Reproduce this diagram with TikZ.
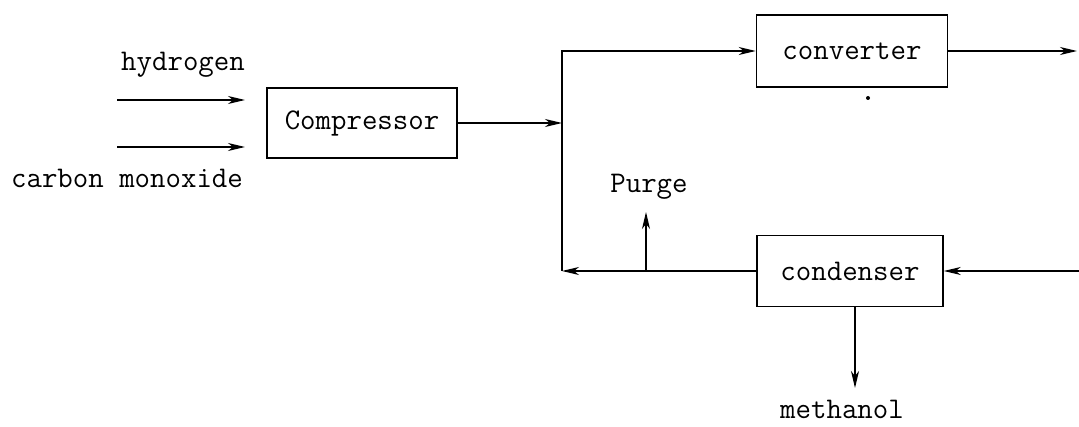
\documentclass[tikz,border=0pt]{standalone}
\usepackage{fontspec}
\usetikzlibrary{arrows.meta}
\begin{document}
\begin{tikzpicture}[x=1pt,y=-1pt,
  txt/.style={font=\fontsize{30}{33}\selectfont\ttfamily},
  box/.style={draw,line width=1.5pt,inner sep=0pt,txt},
  lbl/.style={inner sep=0pt,txt},
  flow/.style={line width=1.5pt,-{Stealth[length=17pt,width=8pt,inset=5pt]}}]
\useasboundingbox (0,0) rectangle (1079,427);
% boxes
\node[box,minimum width=190pt,minimum height=70pt] (comp) at (362,123) {Compressor};
\node[box,minimum width=191pt,minimum height=72pt] (conv) at (852,51) {converter};
\node[box,minimum width=186pt,minimum height=71pt] (cond) at (850,271) {condenser};
% labels
\node[lbl,anchor=base] (h2) at (183,71) {hydrogen};
\node[lbl,anchor=base] (co) at (127,188) {carbon monoxide};
\node[lbl,anchor=base] (purge) at (649,193) {Purge};
\node[lbl,anchor=base] (meth) at (842,419) {methanol};
% coordinates
\coordinate (h2a) at (117,100);
\coordinate (h2b) at (245,100);
\coordinate (coa) at (117,147);
\coordinate (cob) at (245,147);
\coordinate (j1) at (562,123);
\coordinate (jb) at (562,271);
\coordinate (pj) at (646,271);
\coordinate (pt) at (646,212);
\coordinate (cout) at (1077,51);
\coordinate (cin) at (1079,271);
\coordinate (mt) at (855,388);
% connectors
\draw[flow] (h2a) -- (h2b);
\draw[flow] (coa) -- (cob);
\draw[flow] (comp.east) -- (j1);
\draw[flow] (jb) |- (conv.west);
\draw[flow] (cond.west) -- (jb);
\draw[flow] (pj) -- (pt);
\draw[flow] (conv.east) -- (cout);
\draw[flow] (cin) -- (cond.east);
\draw[flow] (cond.south -| mt) -- (mt);
% speck under converter
\fill (868,98) circle (2pt);
\end{tikzpicture}
\end{document}
